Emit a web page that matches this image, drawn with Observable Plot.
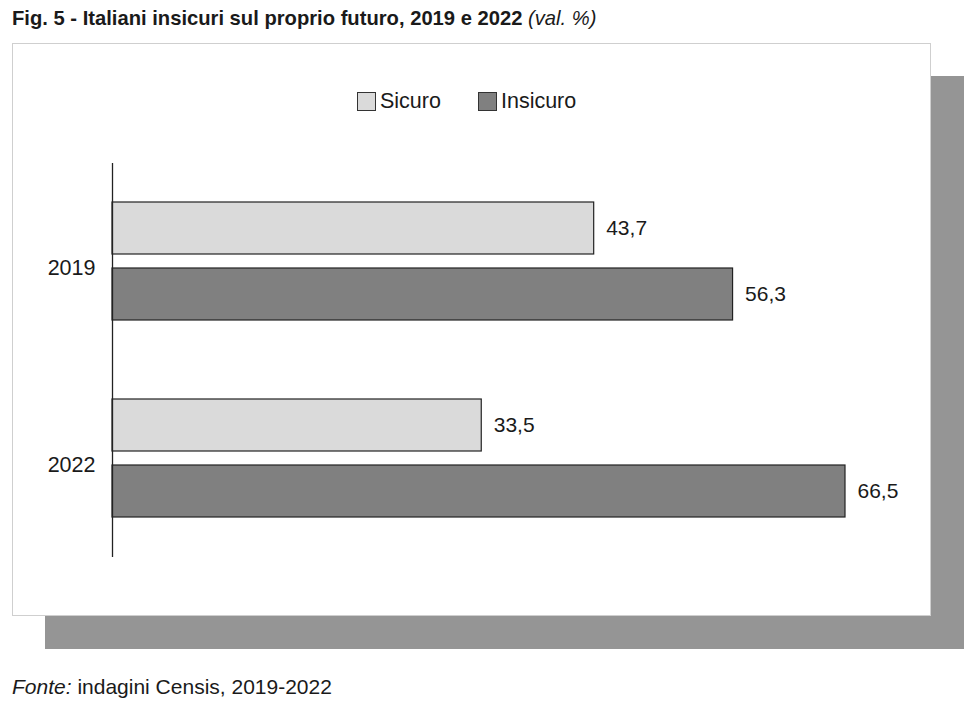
<!DOCTYPE html>
<html>
<head>
<meta charset="utf-8">
<script src="https://cdn.jsdelivr.net/npm/d3@7"></script>
<script src="https://cdn.jsdelivr.net/npm/@observablehq/plot@0.6"></script>
<style>
  html, body { margin: 0; padding: 0; background: #fff; }
  body { width: 968px; height: 702px; position: relative; overflow: hidden; font-family: "Liberation Sans", Arial, sans-serif; color: #1a1a1a; }
  #title { position: absolute; left: 12px; top: 6px; font-size: 20.2px; line-height: 24px; font-weight: bold; white-space: nowrap; }
  #title i { font-weight: normal; }
  #box { position: absolute; left: 12px; top: 43px; width: 917px; height: 571px; border: 1px solid #cfcfcf; background: #fff; box-shadow: 33px 33px 0 #959595; }
  #legend { position: absolute; left: 344px; top: 44px; font-size: 21.5px; line-height: 26px; display: flex; align-items: center; white-space: nowrap; }
  .sw { display: inline-block; width: 19px; height: 19px; border: 1px solid #333; margin-right: 4px; box-sizing: border-box; }
  .item { display: flex; align-items: center; margin-right: 37px; }
  #chart { position: absolute; left: 0px; top: 103px; }
  #caption { position: absolute; left: 12px; top: 675px; font-size: 21px; line-height: 24px; white-space: nowrap; }
</style>
</head>
<body>
<div id="title">Fig. 5 - Italiani insicuri sul proprio futuro, 2019 e 2022 <i>(val. %)</i></div>
<div id="box">
  <div id="legend"></div>
  <div id="chart"></div>
</div>
<div id="caption"><i>Fonte:</i> indagini Censis, 2019-2022</div>
<script>
const years = ["2019", "2022"];
const series = ["Sicuro", "Insicuro"];
const sicuro = [43.7, 33.5];
const insicuro = [56.3, 66.5];
const colors = ["#dadada", "#808080"];

const data = [];
years.forEach((y, i) => {
  data.push({year: y, series: series[0], value: sicuro[i]});
  data.push({year: y, series: series[1], value: insicuro[i]});
});

const fmt = v => v.toFixed(1).replace(".", ",");

// legend
const leg = document.getElementById("legend");
series.forEach((s, i) => {
  const it = document.createElement("div");
  it.className = "item";
  it.innerHTML = `<span class="sw" style="background:${colors[i]}"></span><span>${s}</span>`;
  leg.appendChild(it);
});

const W = 917, H = 420;
const plot = Plot.plot({
  width: W,
  height: H,
  marginTop: 15,
  marginBottom: 10,
  marginLeft: 99,
  marginRight: 20,
  style: {fontFamily: "Liberation Sans, Arial, sans-serif", fontSize: "21px", color: "#1a1a1a", background: "transparent"},
  x: {domain: [0, 66.5], range: [99, 832], axis: null},
  y: {domain: series, paddingInner: 0.209, paddingOuter: 0.578, axis: null},
  fy: {domain: years, padding: 0, label: null},
  color: {domain: series, range: colors},
  marks: [
    Plot.axisFy({anchor: "left", tickSize: 0, tickPadding: 17, fontSize: 21.5, label: null, dy: 6}),
    Plot.barX(data, {fy: "year", y: "series", x: "value", fill: "series", stroke: "#222", strokeWidth: 1.2}),
    Plot.text(data, {fy: "year", y: "series", x: "value", text: d => fmt(d.value), dx: 12, textAnchor: "start", fontSize: 21, fill: "#1a1a1a"}),
    Plot.ruleX([0], {stroke: "#222", strokeWidth: 1.3})
  ]
});
document.getElementById("chart").appendChild(plot);
</script>
</body>
</html>
